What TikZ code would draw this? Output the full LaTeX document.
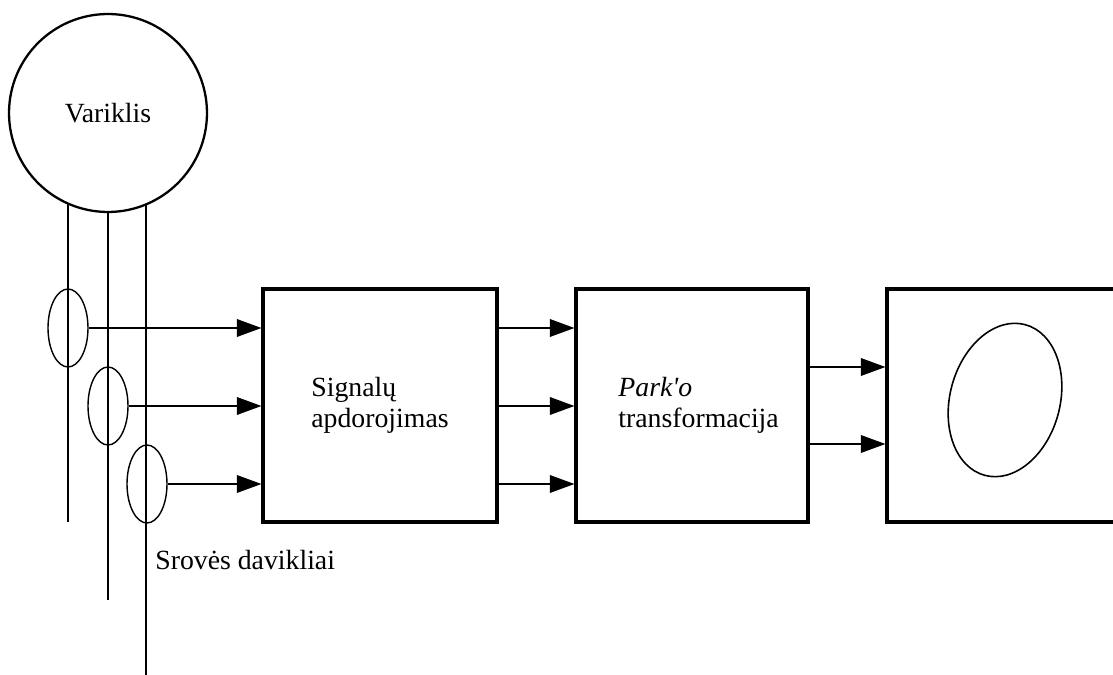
\documentclass[tikz,border=0pt]{standalone}
\usepackage{fontspec}
\setmainfont{Liberation Serif}
\newfontfamily\rawserif{Liberation Serif}
\usetikzlibrary{arrows.meta,shapes.geometric}
\tikzset{
  blokas/.style={draw, line width=1.8pt, minimum width=4.68cm, minimum height=4.66cm, align=left, inner sep=0pt},
  jutiklis/.style={draw, ellipse, line width=0.8pt, minimum width=0.8cm, minimum height=1.56cm, inner sep=0pt},
  laidas/.style={line width=1pt},
}
\begin{document}
\begin{tikzpicture}[x=0.02cm, y=-0.02cm, >={Triangle[length=14pt,width=10pt]}, font=\fontsize{15.8}{18}\selectfont]
\clip (0,0) rectangle (1113,675);
% variklis ir laidai
\node[draw, circle, line width=1.3pt, minimum size=3.96cm, inner sep=0pt] (motor) at (108,113) {Variklis};
\coordinate (w1) at (68,203); \coordinate (w1e) at (68,522);
\coordinate (w2) at (108,212); \coordinate (w2e) at (108,600);
\coordinate (w3) at (146,204); \coordinate (w3e) at (146,675);
\draw[laidas] (w1)--(w1e);
\draw[laidas] (w2)--(w2e);
\draw[laidas] (w3)--(w3e);
% jutikliai
\node[jutiklis] (s1) at (68,328) {};
\node[jutiklis] (s2) at (108,406) {};
\node[jutiklis] (s3) at (147,484) {};
\node[anchor=base west, inner sep=0pt] (srove) at (155,570) {Srovės davikliai};
% blokai
\node[blokas] (sig) at (380,405.5) {Signalų\\apdorojimas};
\node[blokas, minimum width=4.64cm] (park) at (692,405.5) {\hspace*{7.5pt}{\rawserif\itshape Park'o}\\\hspace*{7.5pt}transformacija};
\node[blokas, minimum width=6cm] (disp) at (1037,405.5) {};
\draw[line width=0.9pt, rotate around={-15:(1005,400)}] (1005,400) ellipse [x radius=55, y radius=78];
% rodykles
\draw[->, laidas] (s1.east)--(s1.east -| sig.west);
\draw[->, laidas] (s2.east)--(s2.east -| sig.west);
\draw[->, laidas] (s3.east)--(s3.east -| sig.west);
\draw[->, laidas] (s1.east -| sig.east)--(s1.east -| park.west);
\draw[->, laidas] (s2.east -| sig.east)--(s2.east -| park.west);
\draw[->, laidas] (s3.east -| sig.east)--(s3.east -| park.west);
\coordinate (q1) at (0,367); \coordinate (q2) at (0,444);
\draw[->, laidas] (park.east |- q1)--(disp.west |- q1);
\draw[->, laidas] (park.east |- q2)--(disp.west |- q2);
\end{tikzpicture}
\end{document}
